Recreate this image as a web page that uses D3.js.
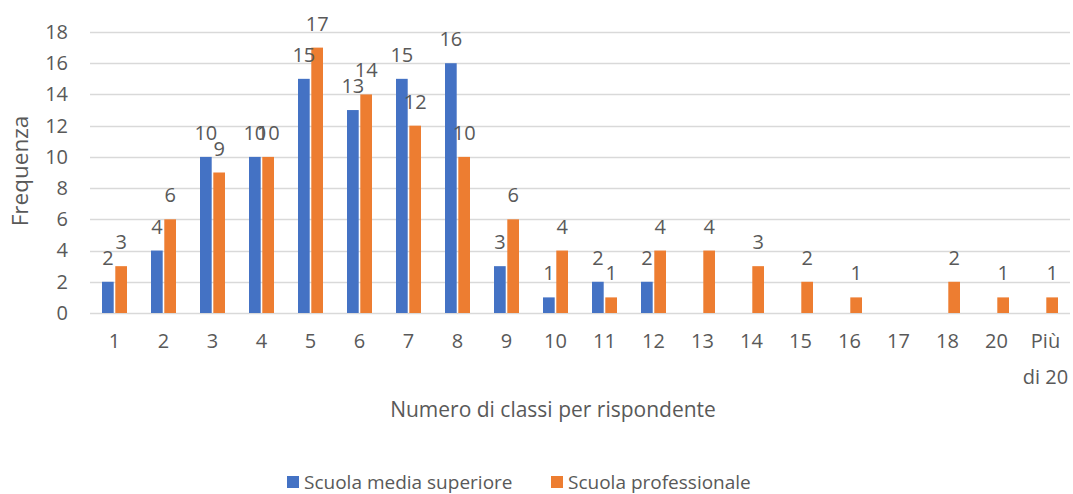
<!DOCTYPE html>
<html>
<head>
<meta charset="utf-8">
<script src="https://cdn.jsdelivr.net/npm/d3@7"></script>
<style>
  body { margin: 0; background: #fff; }
  text { font-family: "Open Sans", "Noto Sans", sans-serif; fill: #595959; }
</style>
</head>
<body>
<div id="chart"></div>
<script>
// Data

var categories = ['1', '2', '3', '4', '5', '6', '7', '8', '9', '10', '11', '12', '13', '14', '15', '16', '17', '18', '20', 'Più di 20'];
var seriesNames = ['Scuola media superiore', 'Scuola professionale'];
var mediaSuperiore = [2, 4, 10, 10, 15, 13, 15, 16, 3, 1, 2, 2, 0, 0, 0, 0, 0, 0, 0, 0];
var professionale = [3, 6, 9, 10, 17, 14, 12, 10, 6, 4, 1, 4, 4, 3, 2, 1, 0, 2, 1, 1];
var yTicks = [0, 2, 4, 6, 8, 10, 12, 14, 16, 18];
var colors = ['#4472c4', '#ed7d31'];

// Dimensions

var width = 1073;
var height = 494;
var margin = { top: 32, left: 90, right: 3, bottom: 181 };

var svg = d3.select('#chart').append('svg')
    .attr('width', width)
    .attr('height', height);

var x = d3.scaleBand()
    .domain(categories)
    .range([margin.left, width - margin.right])
    .paddingInner(0.49)
    .paddingOuter(0.245);

var xInner = d3.scaleBand()
    .domain([0, 1])
    .range([0, x.bandwidth()])
    .paddingInner(0.12);

var y = d3.scaleLinear()
    .domain([0, 18])
    .range([height - margin.bottom, margin.top]);

// Gridlines

svg.append('g')
    .selectAll('line')
    .data(yTicks)
    .enter()
    .append('line')
    .attr('x1', margin.left)
    .attr('x2', width - margin.right)
    .attr('y1', function(d) { return Math.round(y(d)) + 0.5; })
    .attr('y2', function(d) { return Math.round(y(d)) + 0.5; })
    .attr('stroke', '#d9d9d9')
    .attr('stroke-width', 1.5);

// Y axis labels

var yAxis = d3.axisLeft(y).tickValues(yTicks).tickSize(0).tickPadding(0);
var yg = svg.append('g')
    .attr('transform', 'translate(' + (margin.left - 22) + ',0)')
    .call(yAxis);
yg.select('.domain').remove();
yg.selectAll('text')
    .attr('font-size', 20)
    .attr('font-family', null)
    .attr('fill', '#595959');

// X axis labels

var xAxis = d3.axisBottom(x).tickSize(0).tickPadding(0);
var xg = svg.append('g')
    .attr('transform', 'translate(0,' + (height - margin.bottom) + ')')
    .call(xAxis);
xg.select('.domain').remove();
xg.selectAll('.tick text')
    .attr('font-size', 20)
    .attr('font-family', null)
    .attr('fill', '#595959')
    .attr('dy', null)
    .attr('y', 35)
    .each(function(d) {
        var t = d3.select(this);
        if (d.indexOf(' di ') > 0) {
            t.text(null);
            t.append('tspan').attr('x', 0).attr('y', 35).text('Più');
            t.append('tspan').attr('x', 0).attr('y', 71).text('di 20');
        }
    });

// Bars

var rows = categories.map(function(c, i) {
    return {
        cat: c,
        values: [
            { s: 0, v: mediaSuperiore[i] },
            { s: 1, v: professionale[i] }
        ].filter(function(d) { return d.v > 0; })
    };
});

var groups = svg.append('g')
    .selectAll('g')
    .data(rows)
    .enter()
    .append('g')
    .attr('transform', function(d) { return 'translate(' + x(d.cat) + ',0)'; });

groups.selectAll('rect')
    .data(function(d) { return d.values; })
    .enter()
    .append('rect')
    .attr('x', function(d) { return xInner(d.s); })
    .attr('y', function(d) { return y(d.v); })
    .attr('width', xInner.bandwidth())
    .attr('height', function(d) { return y(0) - y(d.v); })
    .attr('fill', function(d) { return colors[d.s]; });

// Data labels

groups.selectAll('text.lbl')
    .data(function(d) { return d.values; })
    .enter()
    .append('text')
    .attr('class', 'lbl')
    .attr('x', function(d) { return xInner(d.s) + xInner.bandwidth() / 2; })
    .attr('y', function(d) { return y(d.v) - 17; })
    .attr('text-anchor', 'middle')
    .attr('font-size', 20)
    .attr('fill', '#404040')
    .text(function(d) { return d.v; });

// Axis titles

svg.append('text')
    .attr('transform', 'translate(28,171) rotate(-90)')
    .attr('text-anchor', 'middle')
    .attr('font-size', 22.5)
    .text('Frequenza');

svg.append('text')
    .attr('x', 553)
    .attr('y', 417)
    .attr('text-anchor', 'middle')
    .attr('font-size', 21)
    .text('Numero di classi per rispondente');

// Legend

var legendX = [287, 551];
var legend = svg.append('g')
    .selectAll('g')
    .data(seriesNames)
    .enter()
    .append('g')
    .attr('transform', function(d, i) { return 'translate(' + legendX[i] + ',476)'; });

legend.append('rect')
    .attr('width', 12)
    .attr('height', 12)
    .attr('fill', function(d, i) { return colors[i]; });

legend.append('text')
    .attr('x', 17)
    .attr('y', 13)
    .attr('font-size', 19)
    .text(function(d) { return d; });
</script>
</body>
</html>
